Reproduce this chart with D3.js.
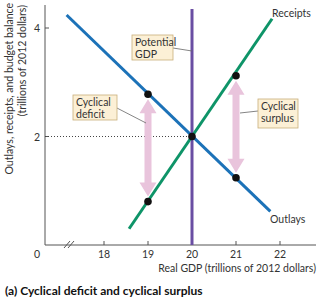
<!DOCTYPE html>
<html>
<head>
<meta charset="utf-8">
<script src="https://cdn.jsdelivr.net/npm/d3@7"></script>
<style>
  body { margin: 0; background: #fff; }
  svg text { font-family: "Lato", "Open Sans", sans-serif; fill: #333; }
</style>
</head>
<body>
<div id="chart"></div>
<script>
// values
const xTicks = [18, 19, 20, 21, 22];
const yTicks = [2, 4];
const outlays = [[17.15, 4.24], [21.78, 0.62]];
const receipts = [[18.57, 0.3], [21.82, 4.17]];
const potentialGDP = 20;
const balanceLevel = 2;
const dots = [[19, 2.78], [21, 1.24], [19, 0.8], [21, 3.12], [20, 2]];
const arrows = [
  { x: 19, from: 2.78, to: 0.8 },
  { x: 21, from: 1.24, to: 3.12 },
];

const width = 320, height = 300;

const svg = d3
  .select("#chart")
  .append("svg")
  .attr("width", width)
  .attr("height", height);

const x = d3.scaleLinear().domain([18, 22]).range([104, 280]);
const y = d3.scaleLinear().domain([0, 4]).range([245, 28]);
const x0 = 45; // y axis position (broken axis, 0 at origin)

const line = d3
  .line()
  .x((d) => x(d[0]))
  .y((d) => y(d[1]));

// axes
const axisColor = "#555";
svg.append("line")
  .attr("x1", x0).attr("x2", x0)
  .attr("y1", 5).attr("y2", y(0))
  .attr("stroke", axisColor).attr("stroke-width", 1);
svg.append("line")
  .attr("x1", x0).attr("x2", 316)
  .attr("y1", y(0)).attr("y2", y(0))
  .attr("stroke", axisColor).attr("stroke-width", 1);

// axis break
[0, 4].forEach((o) => {
  svg.append("line")
    .attr("x1", 64 + o).attr("y1", y(0) + 3)
    .attr("x2", 70 + o).attr("y2", y(0) - 4)
    .attr("stroke", axisColor).attr("stroke-width", 1);
});

svg.selectAll(".xtick")
  .data(xTicks)
  .enter()
  .append("line")
  .attr("x1", (d) => x(d)).attr("x2", (d) => x(d))
  .attr("y1", y(0)).attr("y2", y(0) - 4)
  .attr("stroke", axisColor);
svg.selectAll(".xlabel")
  .data(xTicks)
  .enter()
  .append("text")
  .attr("x", (d) => x(d))
  .attr("y", y(0) + 13)
  .attr("text-anchor", "middle")
  .attr("font-size", 10.5)
  .text((d) => d);
svg.append("text")
  .attr("x", 37).attr("y", y(0) + 13)
  .attr("text-anchor", "middle")
  .attr("font-size", 10.5)
  .text("0");

svg.selectAll(".ytick")
  .data(yTicks)
  .enter()
  .append("line")
  .attr("x1", x0).attr("x2", x0 + 4)
  .attr("y1", (d) => y(d)).attr("y2", (d) => y(d))
  .attr("stroke", axisColor);
svg.selectAll(".ylabel")
  .data(yTicks)
  .enter()
  .append("text")
  .attr("x", 37)
  .attr("y", (d) => y(d) + 4)
  .attr("text-anchor", "middle")
  .attr("font-size", 10.5)
  .text((d) => d);

svg.append("text")
  .attr("x", 316).attr("y", 272)
  .attr("text-anchor", "end")
  .attr("font-size", 10.5)
  .text("Real GDP (trillions of 2012 dollars)");

svg.append("text")
  .attr("transform", "translate(13,3) rotate(-90)")
  .attr("text-anchor", "end")
  .attr("font-size", 10.5)
  .text("Outlays, receipts, and budget balance");
svg.append("text")
  .attr("transform", "translate(26,5) rotate(-90)")
  .attr("text-anchor", "end")
  .attr("font-size", 10.5)
  .text("(trillions of 2012 dollars)");

// dotted guide at y = 2
svg.append("line")
  .attr("x1", x0).attr("x2", x(potentialGDP))
  .attr("y1", y(balanceLevel)).attr("y2", y(balanceLevel))
  .attr("stroke", "#444")
  .attr("stroke-width", 1)
  .attr("stroke-dasharray", "1,2");

// pink arrows
const shaftW = 3.5, headW = 8.5, headL = 14;
arrows.forEach((a) => {
  const cx = x(a.x);
  const t = y(Math.max(a.from, a.to)) + 5;
  const b = y(Math.min(a.from, a.to)) - 5;
  const pts = [
    [cx, t],
    [cx + headW, t + headL],
    [cx + shaftW, t + headL],
    [cx + shaftW, b - headL],
    [cx + headW, b - headL],
    [cx, b],
    [cx - headW, b - headL],
    [cx - shaftW, b - headL],
    [cx - shaftW, t + headL],
    [cx - headW, t + headL],
  ];
  svg.append("polygon")
    .attr("points", pts.map((p) => p.join(",")).join(" "))
    .attr("fill", "#e9c4dc");
});

// potential GDP
svg.append("line")
  .attr("x1", x(potentialGDP)).attr("x2", x(potentialGDP))
  .attr("y1", 9).attr("y2", y(0))
  .attr("stroke", "#6a4ea3")
  .attr("stroke-width", 3);

svg.append("path")
  .datum(outlays)
  .attr("d", line)
  .attr("fill", "none")
  .attr("stroke", "#1c72b8")
  .attr("stroke-width", 3);

svg.append("path")
  .datum(receipts)
  .attr("d", line)
  .attr("fill", "none")
  .attr("stroke", "#0e9468")
  .attr("stroke-width", 3);

svg.selectAll(".dot")
  .data(dots)
  .enter()
  .append("circle")
  .attr("cx", (d) => x(d[0]))
  .attr("cy", (d) => y(d[1]))
  .attr("r", 3.8)
  .attr("fill", "#111");

svg.append("text")
  .attr("x", 272).attr("y", 17)
  .attr("font-size", 10.5)
  .text("Receipts");
svg.append("text")
  .attr("x", 270).attr("y", 223)
  .attr("font-size", 10.5)
  .text("Outlays");

// callout boxes
function callout(bx, by, bw, bh, lines, lx1, ly1, lx2, ly2) {
  svg.append("line")
    .attr("x1", lx1).attr("y1", ly1)
    .attr("x2", lx2).attr("y2", ly2)
    .attr("stroke", "#666")
    .attr("stroke-width", 0.8);
  svg.append("rect")
    .attr("x", bx).attr("y", by)
    .attr("width", bw).attr("height", bh)
    .attr("fill", "#fcf0d6")
    .attr("stroke", "#c9ae7b")
    .attr("stroke-width", 0.8);
  lines.forEach((t, i) => {
    svg.append("text")
      .attr("x", bx + 3)
      .attr("y", by + 11 + i * 11.5)
      .attr("font-size", 10.5)
      .text(t);
  });
}

callout(132, 35, 41, 25, ["Potential", "GDP"], 173, 48, x(potentialGDP), 51);
callout(73, 95, 44, 25, ["Cyclical", "deficit"], 115, 107, x(19) - 2, 123);
callout(258, 99, 40, 29, ["Cyclical", "surplus"], 258, 111, x(21) + 4, 113);

svg.append("text")
  .attr("x", 5).attr("y", 295)
  .attr("font-size", 12)
  .attr("font-weight", "bold")
  .style("fill", "#111")
  .text("(a) Cyclical deficit and cyclical surplus");
</script>
</body>
</html>
